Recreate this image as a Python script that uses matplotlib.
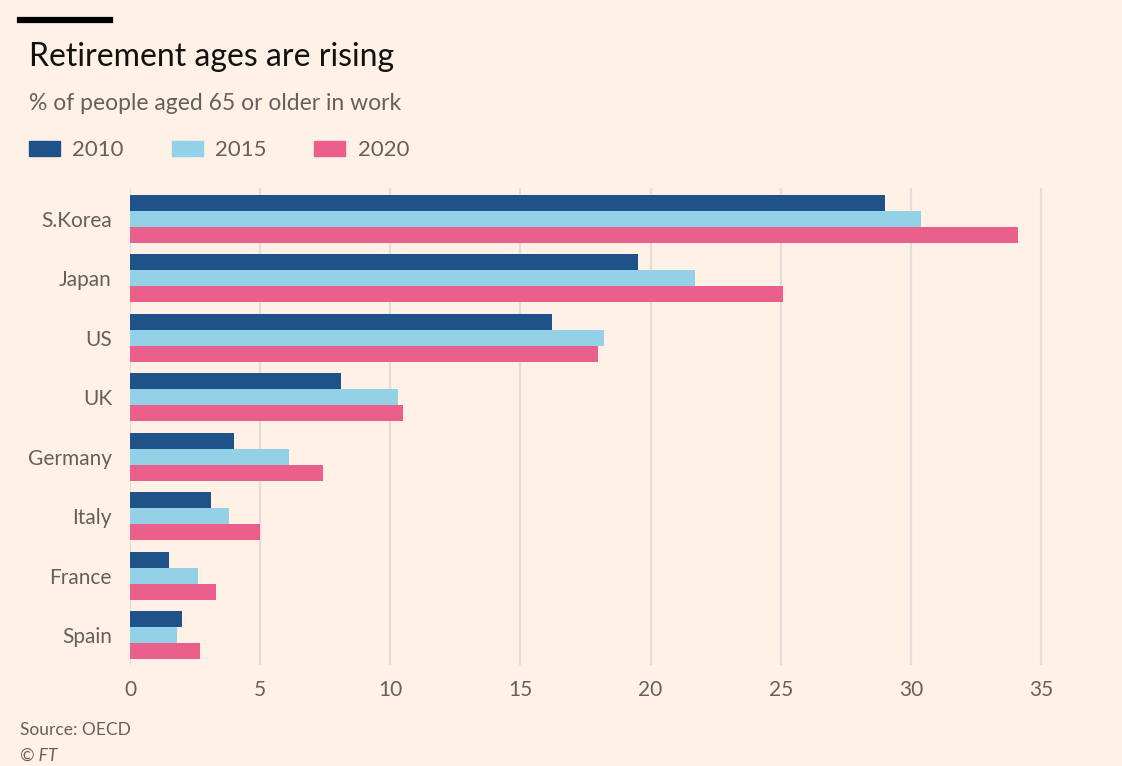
import matplotlib.pyplot as plt
import numpy as np
from matplotlib.patches import Patch

# data
countries = ["S.Korea", "Japan", "US", "UK", "Germany", "Italy", "France", "Spain"]
share_2010 = [29.0, 19.5, 16.2, 8.1, 4.0, 3.1, 1.5, 2.0]
share_2015 = [30.4, 21.7, 18.2, 10.3, 6.1, 3.8, 2.6, 1.8]
share_2020 = [34.1, 25.1, 18.0, 10.5, 7.4, 5.0, 3.3, 2.7]
years = ["2010", "2015", "2020"]

bg = "#FFF1E5"
colors = ["#1F5289", "#93D1E6", "#EB5F8C"]
plt.rcParams["font.family"] = ["Lato", "DejaVu Sans"]

fig = plt.figure(figsize=(11.22, 7.66), dpi=100, facecolor=bg)
ax = fig.add_axes([130 / 1122, 1 - 665 / 766, (1093 - 130) / 1122, (665 - 188) / 766])
ax.set_facecolor(bg)

y = np.arange(len(countries))
h = 0.27
for i, (vals, c) in enumerate(zip([share_2010, share_2015, share_2020], colors)):
    ax.barh(y + (i - 1) * h, vals, height=h, color=c, zorder=3)

ax.set_xlim(0, 37)
ax.set_ylim(7.5, -0.52)
ax.set_xticks(range(0, 40, 5))
ax.set_yticks(y)
ax.set_yticklabels(countries)
ax.grid(axis="x", color="#E3DEDA", linewidth=1.6, zorder=0)
ax.tick_params(axis="both", length=0, labelsize=15, labelcolor="#66605C")
ax.tick_params(axis="x", pad=11)
ax.tick_params(axis="y", pad=13)
for s in ax.spines.values():
    s.set_visible(False)

# header
fig.add_artist(plt.Line2D([20 / 1122, 110 / 1122], [1 - 20 / 766, 1 - 20 / 766],
                          color="black", linewidth=4.5))
fig.text(29 / 1122, 1 - 57 / 766, "Retirement ages are rising", fontsize=23,
         color="#111111", va="center")
fig.text(29 / 1122, 1 - 104 / 766, "% of people aged 65 or older in work", fontsize=16.5,
         color="#66605C", va="center")

handles = [Patch(color=c) for c in colors]
fig.legend(handles, years, loc="center left", bbox_to_anchor=(9 / 1122, 1 - 150 / 766),
           ncol=3, frameon=False, fontsize=16, handlelength=1.4, handleheight=0.65,
           handletextpad=0.55, columnspacing=2.15, labelcolor="#66605C")

fig.text(20 / 1122, 1 - 730 / 766, "Source: OECD", fontsize=12.5, color="#66605C", va="center")
fig.text(20 / 1122, 1 - 756 / 766, "© FT", fontsize=12.5, color="#66605C", va="center",
         style="italic")

plt.savefig("out.png", dpi=100, facecolor=bg)
